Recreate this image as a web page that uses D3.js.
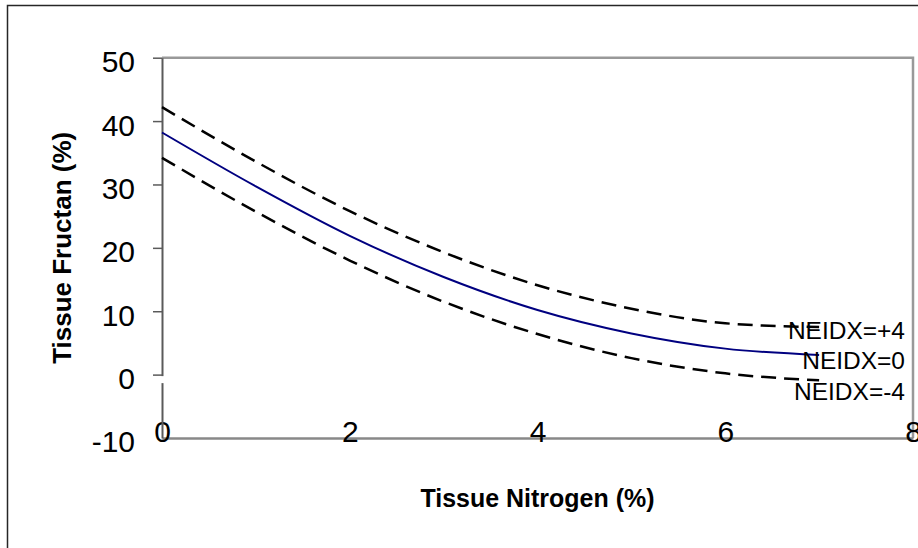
<!DOCTYPE html>
<html>
<head>
<meta charset="utf-8">
<script src="https://cdn.jsdelivr.net/npm/d3@7"></script>
<style>
  html, body { margin: 0; padding: 0; background: #fff; }
  svg { display: block; font-family: 'Liberation Sans', Arial, sans-serif; }
</style>
</head>
<body>
<svg id="chart"></svg>
<script>
// tissue nitrogen (%) and fructan (%) for each NEIDX curve
const nitrogen = [0, 1, 2, 3, 4, 5, 6, 7];
const neidxPlus4 = [42.2, 33.6, 25.8, 19.3, 14.1, 10.4, 8.1, 7.5];
const neidx0 = [38.2, 29.7, 21.9, 15.4, 10.2, 6.5, 4.1, 3.1];
const neidxMinus4 = [34.2, 25.7, 18.0, 11.5, 6.4, 2.6, 0.2, -0.9];
const seriesNames = ['NEIDX=+4', 'NEIDX=0', 'NEIDX=-4'];
const xTicks = [0, 2, 4, 6, 8];
const yTicks = [-10, 0, 10, 20, 30, 40, 50];

const width = 918;
const height = 548;
const svg = d3.select('#chart').attr('width', width).attr('height', height);

// outer frame, runs off the right and bottom edges
svg.append('rect')
  .attr('x', 7.5).attr('y', 5.5)
  .attr('width', 1000).attr('height', 1000)
  .attr('fill', 'none')
  .attr('stroke', '#262626')
  .attr('stroke-width', 1.5);

const xScale = d3.scaleLinear().domain([0, 8]).range([162, 913]);
const yScale = d3.scaleLinear().domain([-10, 50]).range([438, 57.7]);

// top and right edges of the plot area
svg.append('path')
  .attr('d', `M${xScale(0)},${yScale(50)}H${xScale(8)}V${yScale(-10)}`)
  .attr('fill', 'none')
  .attr('stroke', '#999')
  .attr('stroke-width', 2.5);

const axisx = d3.axisBottom(xScale)
  .tickValues(xTicks)
  .tickSize(0)
  .tickSizeOuter(0)
  .tickFormat(d3.format('d'));

const gx = svg.append('g')
  .attr('transform', `translate(0,${yScale(-10)})`)
  .call(axisx);
gx.select('.domain').attr('stroke', '#888').attr('stroke-width', 2.5);
gx.selectAll('text')
  .attr('y', 4)
  .attr('dy', 0)
  .attr('fill', '#000')
  .style('font-size', '30px');

const axisy = d3.axisLeft(yScale)
  .tickValues(yTicks)
  .tickSize(9)
  .tickSizeOuter(0)
  .tickPadding(18)
  .tickFormat(d3.format('d'));

const gy = svg.append('g')
  .attr('transform', `translate(${xScale(0)},0)`)
  .call(axisy);
gy.select('.domain').attr('stroke', '#5a5a5a').attr('stroke-width', 2);
gy.selectAll('.tick line').attr('stroke', '#5a5a5a').attr('stroke-width', 1.5);
gy.selectAll('text')
  .attr('dy', '0.47em')
  .attr('fill', '#000')
  .style('font-size', '30px');
gy.selectAll('.tick').filter(d => d === -10).remove();
svg.append('text')
  .attr('x', xScale(0) - 27)
  .attr('y', yScale(-10) + 14)
  .attr('text-anchor', 'end')
  .style('font-size', '30px')
  .text('-10');

// small white break in the y axis just under zero
svg.append('rect')
  .attr('x', xScale(0) - 2).attr('y', yScale(0) + 1.5)
  .attr('width', 4).attr('height', 7)
  .attr('fill', '#fff');

const line = d3.line()
  .x((d, i) => xScale(nitrogen[i]))
  .y(d => yScale(d))
  .curve(d3.curveMonotoneX);

svg.append('path')
  .datum(neidxPlus4)
  .attr('fill', 'none')
  .attr('stroke', '#000')
  .attr('stroke-width', 2.5)
  .attr('stroke-dasharray', '15 8')
  .attr('d', line);

svg.append('path')
  .datum(neidxMinus4)
  .attr('fill', 'none')
  .attr('stroke', '#000')
  .attr('stroke-width', 2.5)
  .attr('stroke-dasharray', '15 8')
  .attr('d', line);

svg.append('path')
  .datum(neidx0)
  .attr('fill', 'none')
  .attr('stroke', '#000080')
  .attr('stroke-width', 2)
  .attr('d', line);

// labels at the end of each curve
const labelLevels = [5.6, 0.9, -4.0];
svg.selectAll('.series-label')
  .data(seriesNames)
  .enter()
  .append('text')
  .attr('class', 'series-label')
  .attr('x', xScale(8) - 8)
  .attr('y', (d, i) => yScale(labelLevels[i]))
  .attr('text-anchor', 'end')
  .style('font-size', '24.5px')
  .text(d => d);

svg.append('text')
  .attr('x', (xScale(0) + xScale(8)) / 2)
  .attr('y', 507)
  .attr('text-anchor', 'middle')
  .attr('textLength', 234)
  .attr('lengthAdjust', 'spacingAndGlyphs')
  .style('font-size', '26px')
  .style('font-weight', 'bold')
  .text('Tissue Nitrogen (%)');

svg.append('text')
  .attr('transform', `translate(71,${(yScale(-10) + yScale(50)) / 2})rotate(-90)`)
  .attr('text-anchor', 'middle')
  .attr('textLength', 232)
  .attr('lengthAdjust', 'spacingAndGlyphs')
  .style('font-size', '25px')
  .style('font-weight', 'bold')
  .text('Tissue Fructan (%)');
</script>
</body>
</html>
